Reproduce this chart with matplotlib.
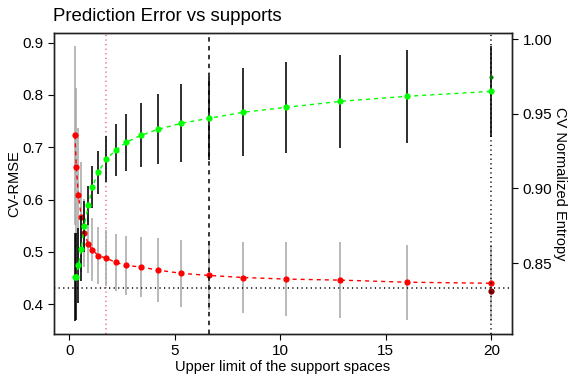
import matplotlib
matplotlib.use('Agg')
from matplotlib import pyplot as plt

plt.rcParams['font.family'] = ['Liberation Sans', 'DejaVu Sans']

# upper limit of the support spaces
supports = [0.27, 0.33, 0.43, 0.57, 0.71, 0.9, 1.09, 1.37, 1.75, 2.2, 2.7,
            3.41, 4.22, 5.31, 6.6, 8.25, 10.28, 12.84, 16.02, 20.0]
# CV-RMSE (left axis) and its spread
rmse = [0.723, 0.662, 0.609, 0.566, 0.536, 0.515, 0.504, 0.493, 0.488, 0.480,
        0.474, 0.471, 0.465, 0.459, 0.455, 0.451, 0.448, 0.446, 0.442, 0.440]
rmse_sd = [0.171, 0.152, 0.127, 0.105, 0.065, 0.055, 0.060, 0.054, 0.053, 0.054,
           0.057, 0.058, 0.061, 0.064, 0.066, 0.068, 0.070, 0.072, 0.072, 0.073]
# CV normalized entropy (right axis) and its spread
entropy = [0.8405, 0.841, 0.8485, 0.8597, 0.8747, 0.8887, 0.9008, 0.9109, 0.9196,
           0.9256, 0.931, 0.9357, 0.9397, 0.9437, 0.947, 0.9511, 0.9544, 0.9584,
           0.9618, 0.9651]
entropy_sd = [0.0295, 0.029, 0.025, 0.022, 0.017, 0.013, 0.014, 0.0143, 0.0155,
              0.0173, 0.019, 0.0213, 0.0235, 0.026, 0.028, 0.0295, 0.0305, 0.0313,
              0.031, 0.0305]

# reference marks
best_min = 1.75      # red dotted vertical
best_1se = 6.6       # black dashed vertical
full_support = 20.0  # black dotted vertical
full_rmse = 0.426    # dark red point
full_entropy = 0.975 # dark green point
rmse_line = 0.431    # dotted horizontal

fig = plt.figure(figsize=(5.76, 3.84), dpi=100)
ax = fig.add_axes([54/576, 1-334/384, (512-54)/576, (334-33)/384])
ax2 = ax.twinx()

dash = (0, (2.9, 2.9))
dot = (0, (0.8, 2.2))

# left axis: RMSE
ax.errorbar(supports, rmse, yerr=rmse_sd, fmt='none', ecolor='#a9a9a9',
            elinewidth=1.15, capsize=0, zorder=2)
ax.plot(supports, rmse, color='red', ls=dash, lw=1, zorder=3)
ax.plot(supports, rmse, 'o', color='red', ms=4.5, mec='none', zorder=4)
ax.plot([full_support], [full_rmse], 'o', color='#8b0000', ms=4.5, mec='none', zorder=4)
ax.axhline(rmse_line, color='black', ls=dot, lw=1.1, zorder=5)
ax.axvline(best_min, color='#e36c7a', ls=dot, lw=1.1, zorder=1)
ax.axvline(best_1se, color='black', ls=dash, lw=1.1, zorder=5)
ax.axvline(full_support, color='black', ls=dot, lw=1.1, zorder=5)

# right axis: entropy
ax2.errorbar(supports, entropy, yerr=entropy_sd, fmt='none', ecolor='black',
             elinewidth=1.15, capsize=0, zorder=2)
ax2.plot(supports, entropy, color='#00ff00', ls=dash, lw=1, zorder=3)
ax2.plot(supports, entropy, 'o', color='#00ff00', ms=4.5, mec='none', zorder=4)
ax2.plot([full_support], [full_entropy], 'o', color='#007a00', ms=3, mec='none', zorder=4)

ax.set_xlim(-0.725, 20.98)
ax.set_ylim(0.343, 0.9185)
ax2.set_ylim(0.8025, 1.0042)
ax.set_xticks([0, 5, 10, 15, 20])
ax.set_yticks([0.4, 0.5, 0.6, 0.7, 0.8, 0.9])
ax2.set_yticks([0.85, 0.90, 0.95, 1.00])
ax2.set_yticklabels(['0.85', '0.90', '0.95', '1.00'])

for a in (ax, ax2):
    a.tick_params(direction='out', length=4, width=0.8, labelsize=11, color='black')
    for s in a.spines.values():
        s.set_linewidth(1.0)
        s.set_color('#222222')

ax.set_xlabel('Upper limit of the support spaces', fontsize=10.5, labelpad=1)
ax.set_ylabel('CV-RMSE', fontsize=10.5, labelpad=1)
ax2.set_ylabel('CV Normalized Entropy', fontsize=10.5, rotation=-90, labelpad=11)

fig.text(53/576, 1-21/384, 'Prediction Error vs supports', fontsize=13.4,
         ha='left', va='baseline')

fig.savefig('out.png', dpi=100)
